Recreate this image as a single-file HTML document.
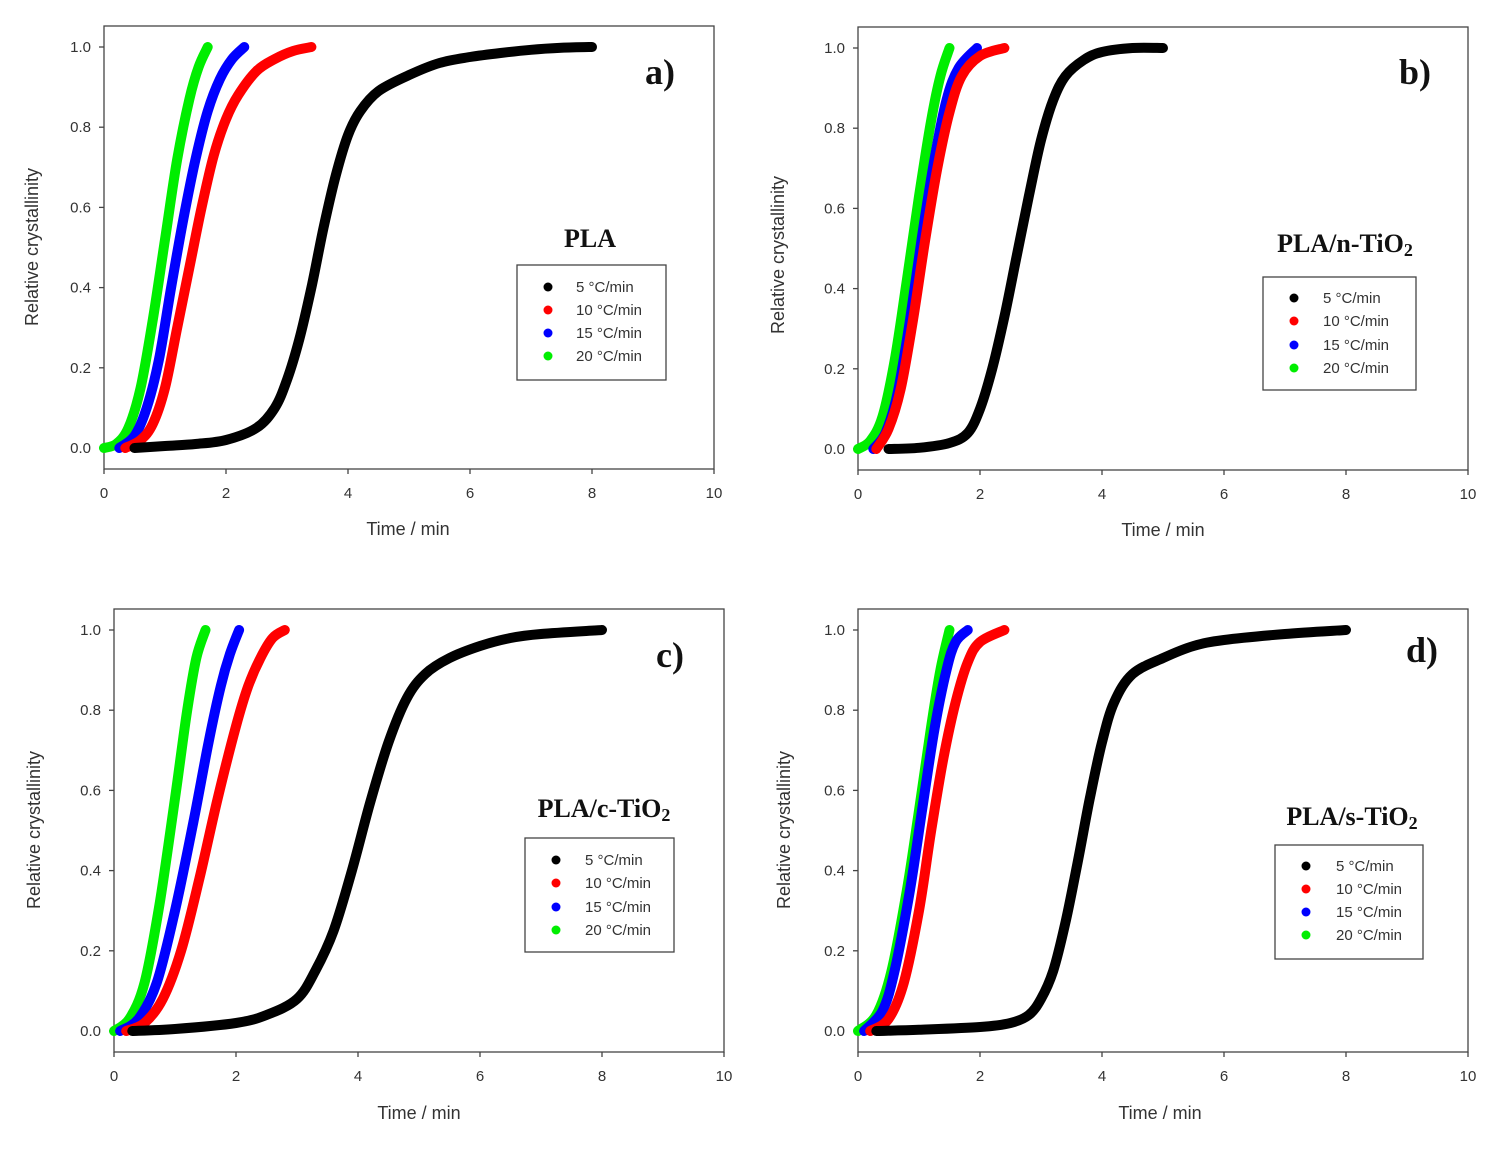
<!DOCTYPE html>
<html><head><meta charset="utf-8"><style>
body{margin:0;background:#fff;}
svg{display:block;}
text{font-family:"Liberation Sans",Arial,sans-serif;fill:#333;}
.ser{font-family:"Liberation Serif","Times New Roman",serif;font-weight:bold;fill:#111;}
</style></head><body>
<svg id="fig" width="1497" height="1158" viewBox="0 0 1497 1158"></svg>
<script>
const rateLabels = ["5 °C/min","10 °C/min","15 °C/min","20 °C/min"];
const colors = ["#000000","#ff0000","#0000ff","#00ee00"];
const xTicks = [0,2,4,6,8,10];
const yTicks = [0.0,0.2,0.4,0.6,0.8,1.0];
// panel a (PLA)
const aBlackT=[0.5,1,1.5,2,2.5,2.8,3.0,3.2,3.4,3.6,3.8,4.0,4.2,4.5,5,5.5,6,6.5,7,7.5,8];
const aBlackX=[0,0.005,0.01,0.02,0.05,0.1,0.17,0.27,0.4,0.55,0.68,0.78,0.84,0.89,0.93,0.96,0.975,0.985,0.993,0.998,1.0];
const aRedT=[0.35,0.6,0.8,1.0,1.2,1.4,1.6,1.8,2.0,2.2,2.5,2.8,3.1,3.4];
const aRedX=[0,0.02,0.06,0.15,0.3,0.45,0.6,0.73,0.82,0.88,0.94,0.97,0.99,1.0];
const aBlueT=[0.25,0.5,0.7,0.9,1.1,1.3,1.5,1.7,1.9,2.1,2.3];
const aBlueX=[0,0.03,0.1,0.22,0.4,0.57,0.72,0.84,0.92,0.97,1.0];
const aGreenT=[0,0.2,0.4,0.6,0.8,1.0,1.2,1.4,1.55,1.7];
const aGreenX=[0,0.01,0.05,0.15,0.32,0.52,0.72,0.87,0.95,1.0];
// panel b (PLA/n-TiO2)
const bBlackT=[0.5,1,1.5,1.8,2.0,2.2,2.4,2.6,2.8,3.0,3.2,3.4,3.7,4.0,4.5,5];
const bBlackX=[0,0.003,0.015,0.04,0.1,0.2,0.33,0.48,0.63,0.77,0.87,0.93,0.97,0.99,1.0,1.0];
const bRedT=[0.3,0.5,0.7,0.9,1.1,1.3,1.5,1.7,2.0,2.4];
const bRedX=[0,0.05,0.15,0.32,0.52,0.7,0.84,0.93,0.98,1.0];
const bBlueT=[0.25,0.45,0.65,0.85,1.05,1.25,1.45,1.65,1.95];
const bBlueX=[0,0.04,0.14,0.32,0.53,0.72,0.87,0.95,1.0];
const bGreenT=[0,0.2,0.4,0.6,0.8,1.0,1.2,1.35,1.5];
const bGreenX=[0,0.02,0.08,0.22,0.42,0.63,0.82,0.93,1.0];
// panel c (PLA/c-TiO2)
const cBlackT=[0.3,1,2,2.5,3.0,3.3,3.6,3.9,4.2,4.5,4.8,5.1,5.5,6,6.5,7,8];
const cBlackX=[0,0.005,0.02,0.04,0.08,0.15,0.25,0.4,0.57,0.72,0.83,0.89,0.93,0.96,0.98,0.99,1.0];
const cRedT=[0.2,0.5,0.8,1.1,1.4,1.7,2.0,2.2,2.4,2.6,2.8];
const cRedX=[0,0.02,0.08,0.2,0.38,0.58,0.76,0.86,0.93,0.98,1.0];
const cBlueT=[0.1,0.4,0.7,1.0,1.3,1.55,1.75,1.9,2.05];
const cBlueX=[0,0.03,0.12,0.3,0.52,0.72,0.86,0.94,1.0];
const cGreenT=[0,0.25,0.5,0.75,1.0,1.2,1.35,1.5];
const cGreenX=[0,0.03,0.12,0.32,0.58,0.8,0.93,1.0];
// panel d (PLA/s-TiO2)
const dBlackT=[0.3,1,2,2.5,2.8,3.0,3.2,3.4,3.6,3.8,4.0,4.2,4.5,5,5.5,6,7,8];
const dBlackX=[0,0.003,0.01,0.02,0.04,0.08,0.15,0.27,0.42,0.58,0.72,0.82,0.89,0.93,0.96,0.975,0.99,1.0];
const dRedT=[0.2,0.5,0.75,1.0,1.2,1.4,1.6,1.8,2.0,2.4];
const dRedX=[0,0.03,0.12,0.3,0.5,0.68,0.82,0.92,0.97,1.0];
const dBlueT=[0.1,0.4,0.6,0.85,1.05,1.25,1.45,1.6,1.8];
const dBlueX=[0,0.05,0.15,0.35,0.55,0.75,0.9,0.97,1.0];
const dGreenT=[0,0.3,0.55,0.8,1.0,1.2,1.35,1.5];
const dGreenX=[0,0.04,0.15,0.35,0.55,0.76,0.9,1.0];

const NS="http://www.w3.org/2000/svg";
const svg=document.getElementById('fig');
function mk(tag,attrs,parent,txt){const e=document.createElementNS(NS,tag);for(const k in attrs)e.setAttribute(k,attrs[k]);if(txt!==undefined)e.textContent=txt;(parent||svg).appendChild(e);return e;}
function smooth(P){
  let d='M'+P[0][0].toFixed(1)+','+P[0][1].toFixed(1);
  for(let i=0;i<P.length-1;i++){
    const p0=P[Math.max(0,i-1)],p1=P[i],p2=P[i+1],p3=P[Math.min(P.length-1,i+2)];
    const c1x=p1[0]+(p2[0]-p0[0])/6,c1y=p1[1]+(p2[1]-p0[1])/6;
    const c2x=p2[0]-(p3[0]-p1[0])/6,c2y=p2[1]-(p3[1]-p1[1])/6;
    d+=` C${c1x.toFixed(1)},${c1y.toFixed(1)} ${c2x.toFixed(1)},${c2y.toFixed(1)} ${p2[0].toFixed(1)},${p2[1].toFixed(1)}`;
  }
  return d;
}

const panels=[
 {id:'a',letter:'a)',title:'PLA',sub:'',L:104,R:714,T:26,B:469,y0:448,y1:47,
  letterX:660,letterY:84,titleX:590,titleY:247,leg:[517,265,149,115],legY:[287,310,333,356],dotX:548,txtX:576,
  xlab:[408,535],ylab:[38,247],series:[[aBlackT,aBlackX],[aRedT,aRedX],[aBlueT,aBlueX],[aGreenT,aGreenX]]},
 {id:'b',letter:'b)',title:'PLA/n-TiO',sub:'2',L:858,R:1468,T:27,B:470,y0:449,y1:48,
  letterX:1415,letterY:84,titleX:1345,titleY:252,leg:[1263,277,153,113],legY:[298,321,345,368],dotX:1294,txtX:1323,
  xlab:[1163,536],ylab:[784,255],series:[[bBlackT,bBlackX],[bRedT,bRedX],[bBlueT,bBlueX],[bGreenT,bGreenX]]},
 {id:'c',letter:'c)',title:'PLA/c-TiO',sub:'2',L:114,R:724,T:609,B:1052,y0:1031,y1:630,
  letterX:670,letterY:667,titleX:604,titleY:817,leg:[525,838,149,114],legY:[860,883,907,930],dotX:556,txtX:585,
  xlab:[419,1119],ylab:[40,830],series:[[cBlackT,cBlackX],[cRedT,cRedX],[cBlueT,cBlueX],[cGreenT,cGreenX]]},
 {id:'d',letter:'d)',title:'PLA/s-TiO',sub:'2',L:858,R:1468,T:609,B:1052,y0:1031,y1:630,
  letterX:1422,letterY:662,titleX:1352,titleY:825,leg:[1275,845,148,114],legY:[866,889,912,935],dotX:1306,txtX:1336,
  xlab:[1160,1119],ylab:[790,830],series:[[dBlackT,dBlackX],[dRedT,dRedX],[dBlueT,dBlueX],[dGreenT,dGreenX]]}
];

panels.forEach(p=>{
  const g=mk('g',{});
  
  
  const xs=t=>p.L+t*(p.R-p.L)/10;
  const ys=v=>p.y0+v*(p.y1-p.y0);
  const frame=mk('rect',{x:p.L,y:p.T,width:p.R-p.L,height:p.B-p.T,fill:'none',stroke:'#444','stroke-width':1.3},g);
  
  
  xTicks.forEach(t=>{
    mk('line',{x1:xs(t),x2:xs(t),y1:p.B,y2:p.B+5,stroke:'#444','stroke-width':1.3},g);
    const tl=mk('text',{x:xs(t),y:p.B+29,'font-size':15,'text-anchor':'middle'},g,String(t));
    
    
  });
  yTicks.forEach(v=>{
    mk('line',{x1:p.L-5,x2:p.L,y1:ys(v),y2:ys(v),stroke:'#444','stroke-width':1.3},g);
    const tl=mk('text',{x:p.L-13,y:ys(v)+5,'font-size':15,'text-anchor':'end'},g,v.toFixed(1));
    
    
  });
  const xl=mk('text',{x:p.xlab[0],y:p.xlab[1],'font-size':18,'text-anchor':'middle'},g,'Time / min');
  
  
  const yl=mk('text',{x:p.ylab[0],y:p.ylab[1],'font-size':18,'text-anchor':'middle',transform:`rotate(-90 ${p.ylab[0]} ${p.ylab[1]})`},g,'Relative crystallinity');
  
  
  [3,2,1,0].forEach(i=>{
    const [T,X]=p.series[i];
    const P=T.map((t,k)=>[xs(t),ys(X[k])]);
    const pl=mk('path',{d:smooth(P),fill:'none',stroke:colors[i],'stroke-width':10,'stroke-linecap':'round','stroke-linejoin':'round'},g);
    
    
  });
  const lt=mk('text',{x:p.letterX,y:p.letterY,'font-size':36,'text-anchor':'middle',class:'ser'},g,p.letter);
  
  
  const tt=mk('text',{x:p.titleX,y:p.titleY,'font-size':26,'text-anchor':'middle',class:'ser'},g,p.title);
  
  
  if(p.sub){mk('tspan',{'font-size':18,dy:4},tt,p.sub);}
  const lg=mk('g',{},g);
  
  
  mk('rect',{x:p.leg[0],y:p.leg[1],width:p.leg[2],height:p.leg[3],fill:'#fff',stroke:'#444','stroke-width':1.3},lg);
  rateLabels.forEach((r,i)=>{
    const e=mk('g',{},lg);
    
    
    mk('circle',{cx:p.dotX,cy:p.legY[i],r:4.5,fill:colors[i]},e);
    mk('text',{x:p.txtX,y:p.legY[i]+5,'font-size':15},e,r);
  });
});
</script>
</body></html>
